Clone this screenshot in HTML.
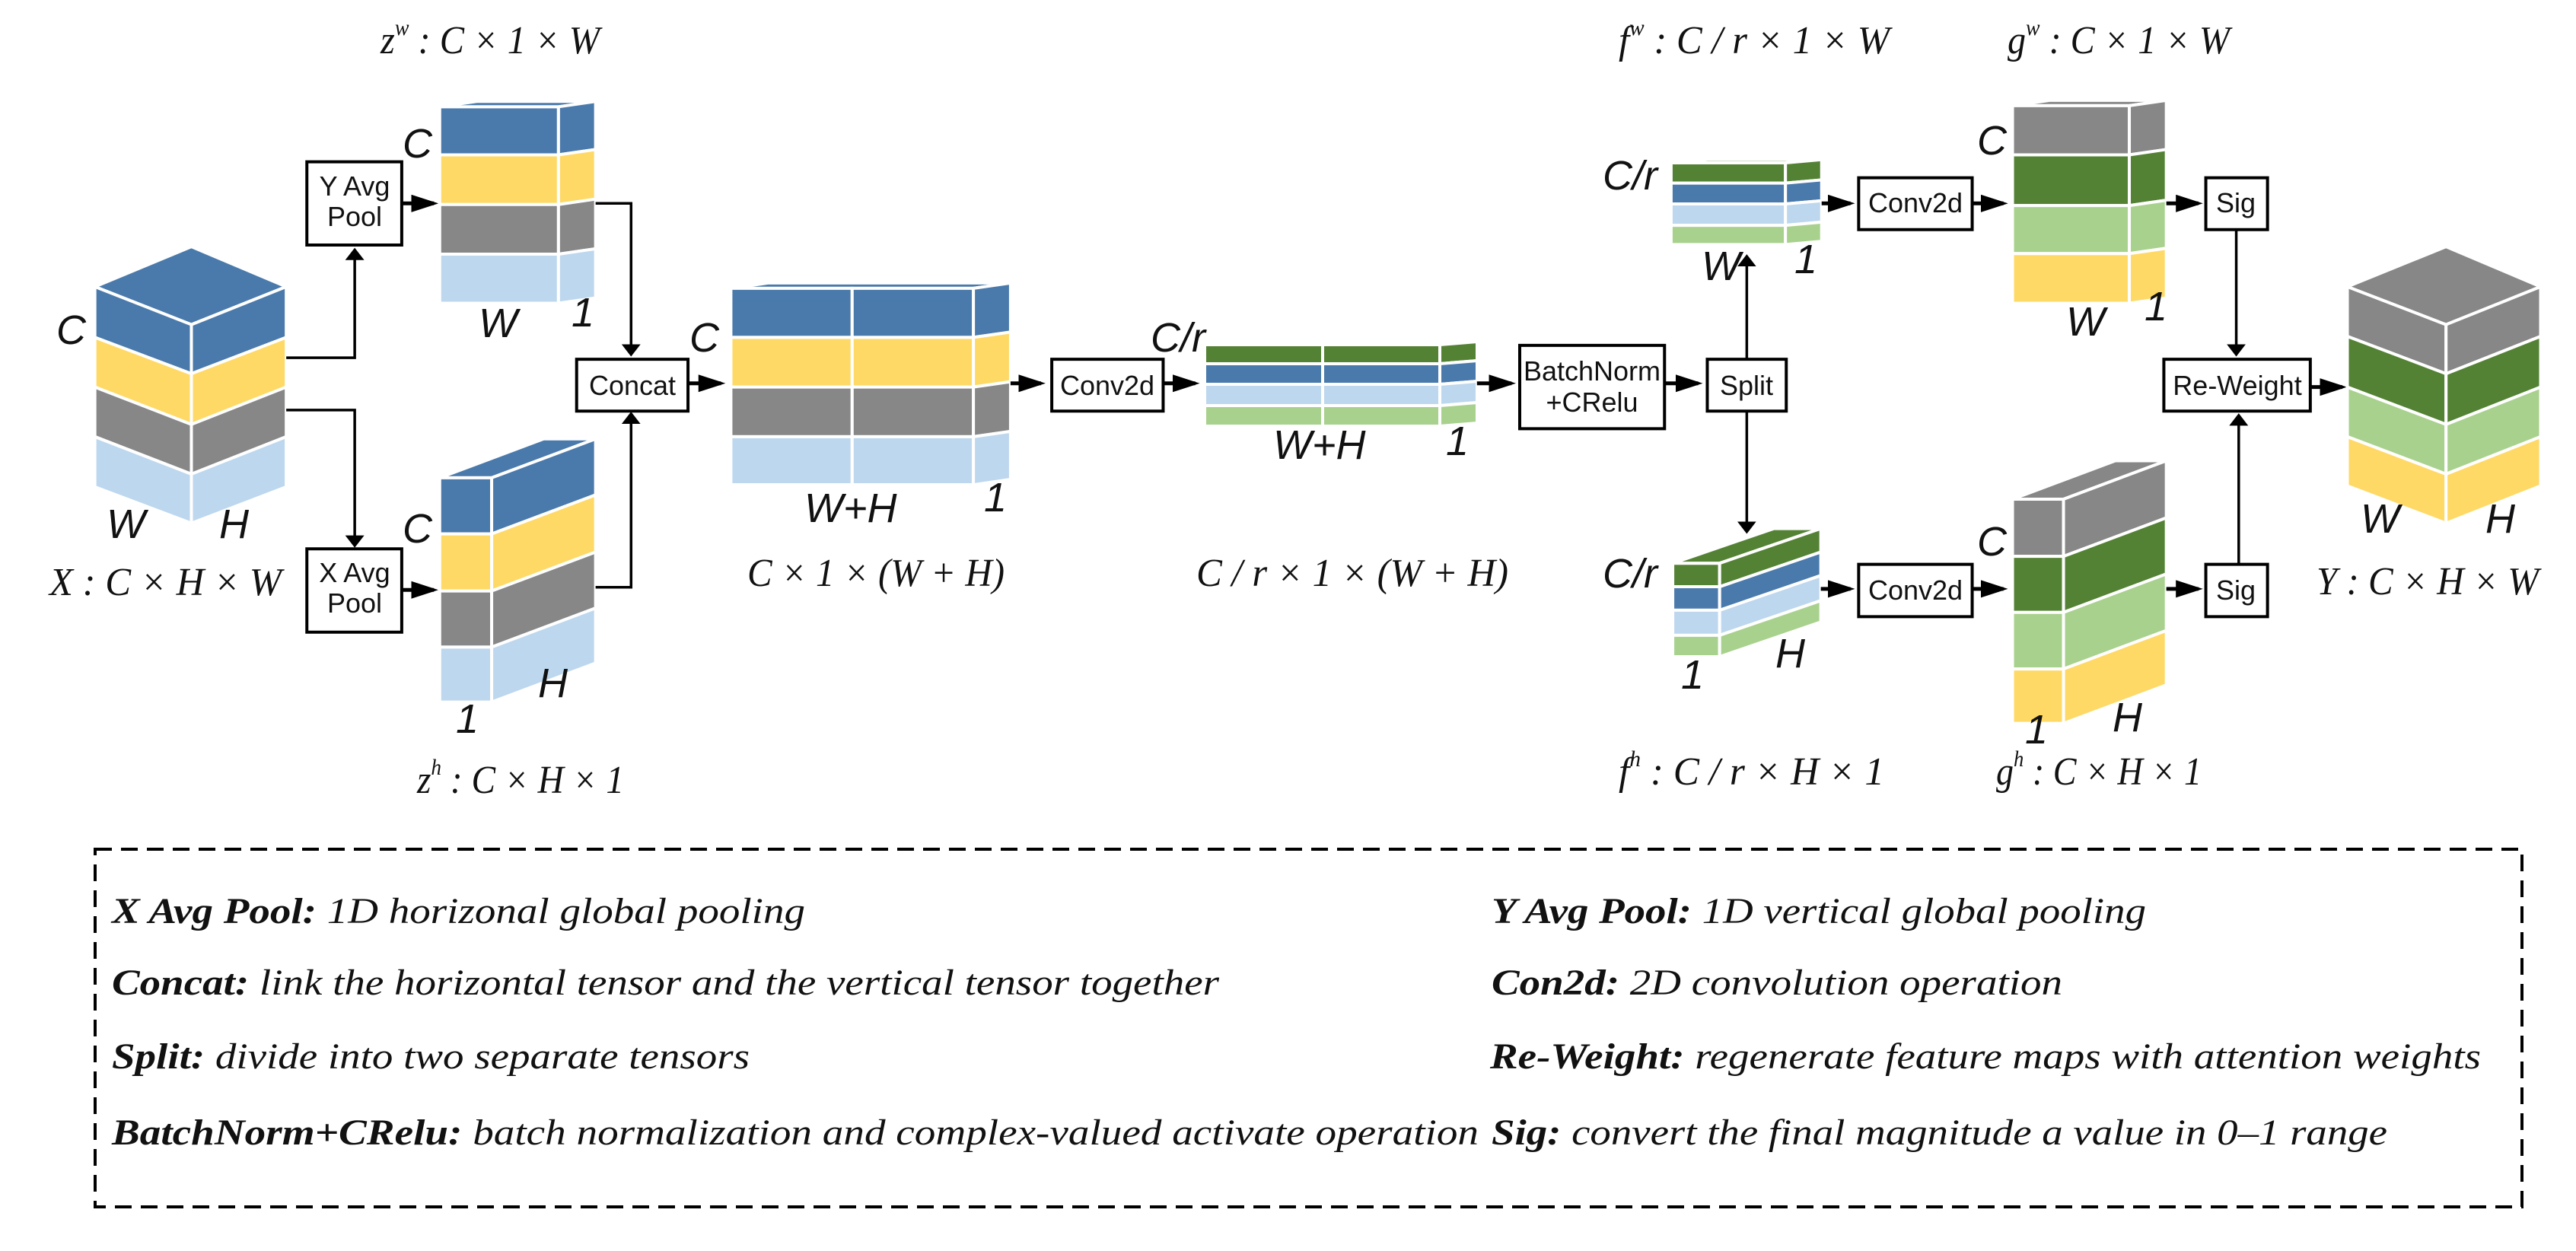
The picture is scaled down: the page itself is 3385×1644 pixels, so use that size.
<!DOCTYPE html>
<html><head><meta charset="utf-8"><style>
html,body{margin:0;padding:0;background:#fff;}
svg{display:block;}
.m{font-family:"Liberation Serif",serif;font-style:italic;font-size:52px;fill:#111;}
.s{font-family:"Liberation Sans",sans-serif;font-style:italic;font-size:54px;fill:#111;}
.b{font-family:"Liberation Sans",sans-serif;font-size:36px;fill:#111;text-anchor:middle;}
.lg{font-family:"Liberation Serif",serif;font-style:italic;font-size:48px;fill:#111;}
.box{fill:#fff;stroke:#000;stroke-width:4;vector-effect:non-scaling-stroke;}
.ln{fill:none;stroke:#000;stroke-width:3.5;vector-effect:non-scaling-stroke;}
.th{stroke-width:5;}
.t polygon,.t rect{stroke:#fff;stroke-width:4;vector-effect:non-scaling-stroke;}
</style></head><body>
<svg width="3385" height="1644" viewBox="0 0 3385 1644" xmlns="http://www.w3.org/2000/svg">
<defs><marker id="a" markerWidth="6" markerHeight="6" refX="5" refY="3" orient="auto" markerUnits="strokeWidth"><path d="M0,0 L6,3 L0,6 z" fill="#000"/></marker></defs>

<g transform="scale(1.084,0.7016)">
 <g class="t">
  <polygon points="232,462 347,537 232,608 115,537" fill="#4a7aab"/>
  <polygon points="115,537 232,608 232,700 115,632" fill="#4a7aab"/>
  <polygon points="232,608 347,537 347,632 232,700" fill="#4a7aab"/>
  <polygon points="115,632 232,700 232,795 115,725" fill="#ffd966"/>
  <polygon points="232,700 347,632 347,725 232,795" fill="#ffd966"/>
  <polygon points="115,725 232,795 232,888 115,818" fill="#878787"/>
  <polygon points="232,795 347,725 347,818 232,888" fill="#878787"/>
  <polygon points="115,818 232,888 232,980 115,912" fill="#bdd7ee"/>
  <polygon points="232,888 347,818 347,912 232,980" fill="#bdd7ee"/>
 </g>
 <rect class="box" x="372" y="303" width="115" height="156"/>
 <rect class="box" x="372" y="1028" width="115" height="156"/>
 <polyline class="ln" points="347,670 430,670 430,468" marker-end="url(#a)"/>
 <polyline class="ln" points="347,768 430,768 430,1022" marker-end="url(#a)"/>
 <line class="ln th" x1="487" y1="381" x2="526" y2="381" marker-end="url(#a)"/>
 <line class="ln th" x1="487" y1="1105" x2="526" y2="1105" marker-end="url(#a)"/>
 <g class="t">
  <polygon points="533,200 677,200 722,190 578,190" fill="#4a7aab"/>
  <rect x="533" y="200" width="144" height="90" fill="#4a7aab"/>
  <rect x="533" y="290" width="144" height="93" fill="#ffd966"/>
  <rect x="533" y="383" width="144" height="93" fill="#878787"/>
  <rect x="533" y="476" width="144" height="92" fill="#bdd7ee"/>
  <polygon points="677,200 722,190 722,280 677,290" fill="#4a7aab"/>
  <polygon points="677,290 722,280 722,373 677,383" fill="#ffd966"/>
  <polygon points="677,383 722,373 722,466 677,476" fill="#878787"/>
  <polygon points="677,476 722,466 722,558 677,568" fill="#bdd7ee"/>
 </g>
 <g class="t">
  <polygon points="533,895 596,895 722,822 659,822" fill="#4a7aab"/>
  <rect x="533" y="895" width="63" height="105" fill="#4a7aab"/>
  <rect x="533" y="1000" width="63" height="107" fill="#ffd966"/>
  <rect x="533" y="1107" width="63" height="105" fill="#878787"/>
  <rect x="533" y="1212" width="63" height="103" fill="#bdd7ee"/>
  <polygon points="596,895 722,822 722,927 596,1000" fill="#4a7aab"/>
  <polygon points="596,1000 722,927 722,1034 596,1107" fill="#ffd966"/>
  <polygon points="596,1107 722,1034 722,1139 596,1212" fill="#878787"/>
  <polygon points="596,1212 722,1139 722,1242 596,1315" fill="#bdd7ee"/>
 </g>
 <polyline class="ln" points="722,381 765,381 765,664" marker-end="url(#a)"/>
 <polyline class="ln" points="722,1100 765,1100 765,775" marker-end="url(#a)"/>
 <rect class="box" x="699" y="673" width="135" height="97"/>
 <line class="ln th" x1="834" y1="718" x2="874" y2="718" marker-end="url(#a)"/>
 <g class="t">
  <polygon points="886,540 1180,540 1225,530 931,530" fill="#4a7aab"/>
  <rect x="886" y="540" width="147" height="92" fill="#4a7aab"/><rect x="1033" y="540" width="147" height="92" fill="#4a7aab"/>
  <rect x="886" y="632" width="147" height="93" fill="#ffd966"/><rect x="1033" y="632" width="147" height="93" fill="#ffd966"/>
  <rect x="886" y="725" width="147" height="93" fill="#878787"/><rect x="1033" y="725" width="147" height="93" fill="#878787"/>
  <rect x="886" y="818" width="147" height="90" fill="#bdd7ee"/><rect x="1033" y="818" width="147" height="90" fill="#bdd7ee"/>
  <polygon points="1180,540 1225,530 1225,622 1180,632" fill="#4a7aab"/>
  <polygon points="1180,632 1225,622 1225,715 1180,725" fill="#ffd966"/>
  <polygon points="1180,725 1225,715 1225,808 1180,818" fill="#878787"/>
  <polygon points="1180,818 1225,808 1225,898 1180,908" fill="#bdd7ee"/>
 </g>
 <line class="ln th" x1="1225" y1="718" x2="1262" y2="718" marker-end="url(#a)"/>
 <rect class="box" x="1275" y="673" width="135" height="97"/>
 <line class="ln th" x1="1410" y1="718" x2="1449" y2="718" marker-end="url(#a)"/>
</g>

<!-- middle tensor -->
<g class="t">
 <polygon points="1583,453 1892,453 1941,449 1632,449" fill="#548235"/>
 <rect x="1583" y="453" width="155" height="25" fill="#548235"/><rect x="1738" y="453" width="154" height="25" fill="#548235"/>
 <rect x="1583" y="478" width="155" height="27" fill="#4a7aab"/><rect x="1738" y="478" width="154" height="27" fill="#4a7aab"/>
 <rect x="1583" y="505" width="155" height="28" fill="#bdd7ee"/><rect x="1738" y="505" width="154" height="28" fill="#bdd7ee"/>
 <rect x="1583" y="533" width="155" height="27" fill="#a9d18e"/><rect x="1738" y="533" width="154" height="27" fill="#a9d18e"/>
 <polygon points="1892,453 1941,449 1941,474 1892,478" fill="#548235"/>
 <polygon points="1892,478 1941,474 1941,501 1892,505" fill="#4a7aab"/>
 <polygon points="1892,505 1941,501 1941,529 1892,533" fill="#bdd7ee"/>
 <polygon points="1892,533 1941,529 1941,556 1892,560" fill="#a9d18e"/>
</g>

<g transform="translate(1690,0) scale(1.081,0.7016)">
 <line class="ln th" x1="232" y1="718" x2="274" y2="718" marker-end="url(#a)"/>
 <rect class="box" x="284" y="647" width="176" height="156"/>
 <line class="ln th" x1="460" y1="718" x2="501" y2="718" marker-end="url(#a)"/>
 <rect class="box" x="512" y="673" width="96" height="97"/>
 <line class="ln" x1="560" y1="673" x2="560" y2="480" marker-end="url(#a)"/>
 <line class="ln" x1="560" y1="770" x2="560" y2="996" marker-end="url(#a)"/>
 <g class="t">
  <polygon points="468,305 607,305 651,299 512,299" fill="#548235"/>
  <rect x="468" y="305" width="139" height="38" fill="#548235"/>
  <rect x="468" y="343" width="139" height="39" fill="#4a7aab"/>
  <rect x="468" y="382" width="139" height="40" fill="#bdd7ee"/>
  <rect x="468" y="422" width="139" height="36" fill="#a9d18e"/>
  <polygon points="607,305 651,299 651,337 607,343" fill="#548235"/>
  <polygon points="607,343 651,337 651,376 607,382" fill="#4a7aab"/>
  <polygon points="607,382 651,376 651,416 607,422" fill="#bdd7ee"/>
  <polygon points="607,422 651,416 651,452 607,458" fill="#a9d18e"/>
 </g>
 <line class="ln th" x1="651" y1="381" x2="686" y2="381" marker-end="url(#a)"/>
 <rect class="box" x="696" y="333" width="138" height="97"/>
 <line class="ln th" x1="834" y1="381" x2="872" y2="381" marker-end="url(#a)"/>
 <g class="t">
  <polygon points="883,198 1025,198 1070,188 928,188" fill="#878787"/>
  <rect x="883" y="198" width="142" height="92" fill="#878787"/>
  <rect x="883" y="290" width="142" height="95" fill="#548235"/>
  <rect x="883" y="385" width="142" height="90" fill="#a9d18e"/>
  <rect x="883" y="475" width="142" height="93" fill="#ffd966"/>
  <polygon points="1025,198 1070,188 1070,280 1025,290" fill="#878787"/>
  <polygon points="1025,290 1070,280 1070,375 1025,385" fill="#548235"/>
  <polygon points="1025,385 1070,375 1070,465 1025,475" fill="#a9d18e"/>
  <polygon points="1025,475 1070,465 1070,558 1025,568" fill="#ffd966"/>
 </g>
 <line class="ln th" x1="1070" y1="381" x2="1109" y2="381" marker-end="url(#a)"/>
 <rect class="box" x="1118" y="333" width="75" height="97"/>
 <line class="ln" x1="1155" y1="430" x2="1155" y2="664" marker-end="url(#a)"/>
 <rect class="box" x="1067" y="673" width="178" height="97"/>
 <line class="ln th" x1="1245" y1="725" x2="1284" y2="725" marker-end="url(#a)"/>
 <g class="t">
  <polygon points="470,1055 527,1055 650,990 593,990" fill="#548235"/>
  <rect x="470" y="1055" width="57" height="44" fill="#548235"/>
  <rect x="470" y="1099" width="57" height="44" fill="#4a7aab"/>
  <rect x="470" y="1143" width="57" height="47" fill="#bdd7ee"/>
  <rect x="470" y="1190" width="57" height="40" fill="#a9d18e"/>
  <polygon points="527,1055 650,990 650,1034 527,1099" fill="#548235"/>
  <polygon points="527,1099 650,1034 650,1078 527,1143" fill="#4a7aab"/>
  <polygon points="527,1143 650,1078 650,1125 527,1190" fill="#bdd7ee"/>
  <polygon points="527,1190 650,1125 650,1165 527,1230" fill="#a9d18e"/>
 </g>
 <line class="ln th" x1="650" y1="1103" x2="686" y2="1103" marker-end="url(#a)"/>
 <rect class="box" x="696" y="1057" width="138" height="98"/>
 <line class="ln th" x1="834" y1="1103" x2="872" y2="1103" marker-end="url(#a)"/>
 <g class="t">
  <polygon points="883,935 945,935 1070,863 1008,863" fill="#878787"/>
  <rect x="883" y="935" width="62" height="107" fill="#878787"/>
  <rect x="883" y="1042" width="62" height="105" fill="#548235"/>
  <rect x="883" y="1147" width="62" height="106" fill="#a9d18e"/>
  <rect x="883" y="1253" width="62" height="102" fill="#ffd966"/>
  <polygon points="945,935 1070,863 1070,970 945,1042" fill="#878787"/>
  <polygon points="945,1042 1070,970 1070,1075 945,1147" fill="#548235"/>
  <polygon points="945,1147 1070,1075 1070,1181 945,1253" fill="#a9d18e"/>
  <polygon points="945,1253 1070,1181 1070,1283 945,1355" fill="#ffd966"/>
 </g>
 <line class="ln th" x1="1070" y1="1103" x2="1109" y2="1103" marker-end="url(#a)"/>
 <rect class="box" x="1118" y="1057" width="75" height="98"/>
 <line class="ln" x1="1158" y1="1057" x2="1158" y2="778" marker-end="url(#a)"/>
 <g class="t">
  <polygon points="1410,462 1525,537 1410,608 1290,537" fill="#878787"/>
  <polygon points="1290,537 1410,608 1410,700 1290,630" fill="#878787"/>
  <polygon points="1410,608 1525,537 1525,630 1410,700" fill="#878787"/>
  <polygon points="1290,630 1410,700 1410,795 1290,725" fill="#548235"/>
  <polygon points="1410,700 1525,630 1525,725 1410,795" fill="#548235"/>
  <polygon points="1290,725 1410,795 1410,888 1290,818" fill="#a9d18e"/>
  <polygon points="1410,795 1525,725 1525,818 1410,888" fill="#a9d18e"/>
  <polygon points="1290,818 1410,888 1410,980 1290,910" fill="#ffd966"/>
  <polygon points="1410,888 1525,818 1525,910 1410,980" fill="#ffd966"/>
 </g>
</g>

<!-- texts (original coords) -->
<text class="s" x="74" y="452">C</text>
<text class="s" x="140" y="707">W</text>
<text class="s" x="288" y="707">H</text>
<text class="m" x="65" y="782" textLength="305" lengthAdjust="spacingAndGlyphs">X : C × H × W</text>
<text class="b" x="466" y="257">Y Avg</text><text class="b" x="466" y="297">Pool</text>
<text class="b" x="466" y="765">X Avg</text><text class="b" x="466" y="805">Pool</text>
<text class="s" x="529" y="207">C</text>
<text class="s" x="629" y="443">W</text>
<text class="s" x="751" y="429">1</text>
<text class="m" x="500" y="70" textLength="288" lengthAdjust="spacingAndGlyphs">z<tspan font-size="30" dy="-24">w</tspan><tspan dy="24"> : C × 1 × W</tspan></text>
<text class="s" x="529" y="713">C</text>
<text class="s" x="707" y="916">H</text>
<text class="s" x="599" y="963">1</text>
<text class="m" x="548" y="1042" textLength="272" lengthAdjust="spacingAndGlyphs">z<tspan font-size="30" dy="-24">h</tspan><tspan dy="24"> : C × H × 1</tspan></text>
<text class="b" x="831" y="519">Concat</text>
<text class="s" x="906" y="462">C</text>
<text class="s" x="1057" y="686">W+H</text>
<text class="s" x="1293" y="672">1</text>
<text class="m" x="982" y="770" textLength="338" lengthAdjust="spacingAndGlyphs">C × 1 × (W + H)</text>
<text class="b" x="1455" y="519">Conv2d</text>
<text class="s" x="1512" y="462">C/r</text>
<text class="s" x="1673" y="603">W+H</text>
<text class="s" x="1900" y="598">1</text>
<text class="m" x="1572" y="770" textLength="410" lengthAdjust="spacingAndGlyphs">C / r × 1 × (W + H)</text>

<text class="b" x="2092" y="500">BatchNorm</text><text class="b" x="2092" y="541">+CRelu</text>
<text class="b" x="2295" y="519">Split</text>
<text class="s" x="2106" y="249">C/r</text>
<text class="s" x="2236" y="368">W</text>
<text class="s" x="2358" y="359">1</text>
<text class="m" x="2127" y="70" textLength="356" lengthAdjust="spacingAndGlyphs">f<tspan font-size="30" dy="-24">w</tspan><tspan dy="24"> : C / r × 1 × W</tspan></text>
<text class="b" x="2517" y="279">Conv2d</text>
<text class="s" x="2598" y="203">C</text>
<text class="s" x="2715" y="441">W</text>
<text class="s" x="2818" y="421">1</text>
<text class="m" x="2638" y="70" textLength="292" lengthAdjust="spacingAndGlyphs">g<tspan font-size="30" dy="-24">w</tspan><tspan dy="24"> : C × 1 × W</tspan></text>
<text class="b" x="2938" y="279">Sig</text>
<text class="b" x="2940" y="519">Re-Weight</text>
<text class="s" x="2106" y="772">C/r</text>
<text class="s" x="2333" y="877">H</text>
<text class="s" x="2209" y="905">1</text>
<text class="m" x="2127" y="1031" textLength="349" lengthAdjust="spacingAndGlyphs">f<tspan font-size="30" dy="-24">h</tspan><tspan dy="24"> : C / r × H × 1</tspan></text>
<text class="b" x="2517" y="788">Conv2d</text>
<text class="s" x="2598" y="730">C</text>
<text class="s" x="2776" y="961">H</text>
<text class="s" x="2661" y="977">1</text>
<text class="m" x="2623" y="1031" textLength="270" lengthAdjust="spacingAndGlyphs">g<tspan font-size="30" dy="-24">h</tspan><tspan dy="24"> : C × H × 1</tspan></text>
<text class="b" x="2938" y="788">Sig</text>
<text class="s" x="3102" y="700">W</text>
<text class="s" x="3266" y="700">H</text>
<text class="m" x="3044" y="781" textLength="292" lengthAdjust="spacingAndGlyphs">Y : C × H × W</text>

<!-- legend -->
<rect x="125" y="1116" width="3189" height="470" fill="none" stroke="#000" stroke-width="4" stroke-dasharray="22 12"/>
<text class="lg" x="147" y="1213" textLength="911" lengthAdjust="spacingAndGlyphs"><tspan font-weight="bold">X Avg Pool:</tspan>  1D horizonal global pooling</text>
<text class="lg" x="1960" y="1213" textLength="860" lengthAdjust="spacingAndGlyphs"><tspan font-weight="bold">Y Avg Pool:</tspan>  1D vertical  global pooling</text>
<text class="lg" x="147" y="1307" textLength="1455" lengthAdjust="spacingAndGlyphs"><tspan font-weight="bold">Concat:</tspan> link the horizontal tensor and the vertical tensor together</text>
<text class="lg" x="1960" y="1307" textLength="750" lengthAdjust="spacingAndGlyphs"><tspan font-weight="bold">Con2d:</tspan> 2D convolution operation</text>
<text class="lg" x="147" y="1404" textLength="838" lengthAdjust="spacingAndGlyphs"><tspan font-weight="bold">Split:</tspan> divide into two separate tensors</text>
<text class="lg" x="1958" y="1404" textLength="1302" lengthAdjust="spacingAndGlyphs"><tspan font-weight="bold">Re-Weight:</tspan> regenerate feature maps with attention weights</text>
<text class="lg" x="147" y="1504" textLength="1796" lengthAdjust="spacingAndGlyphs"><tspan font-weight="bold">BatchNorm+CRelu:</tspan>  batch normalization and complex-valued activate operation</text>
<text class="lg" x="1960" y="1504" textLength="1177" lengthAdjust="spacingAndGlyphs"><tspan font-weight="bold">Sig:</tspan> convert the final magnitude a value in 0–1 range</text>
</svg>
</body></html>
